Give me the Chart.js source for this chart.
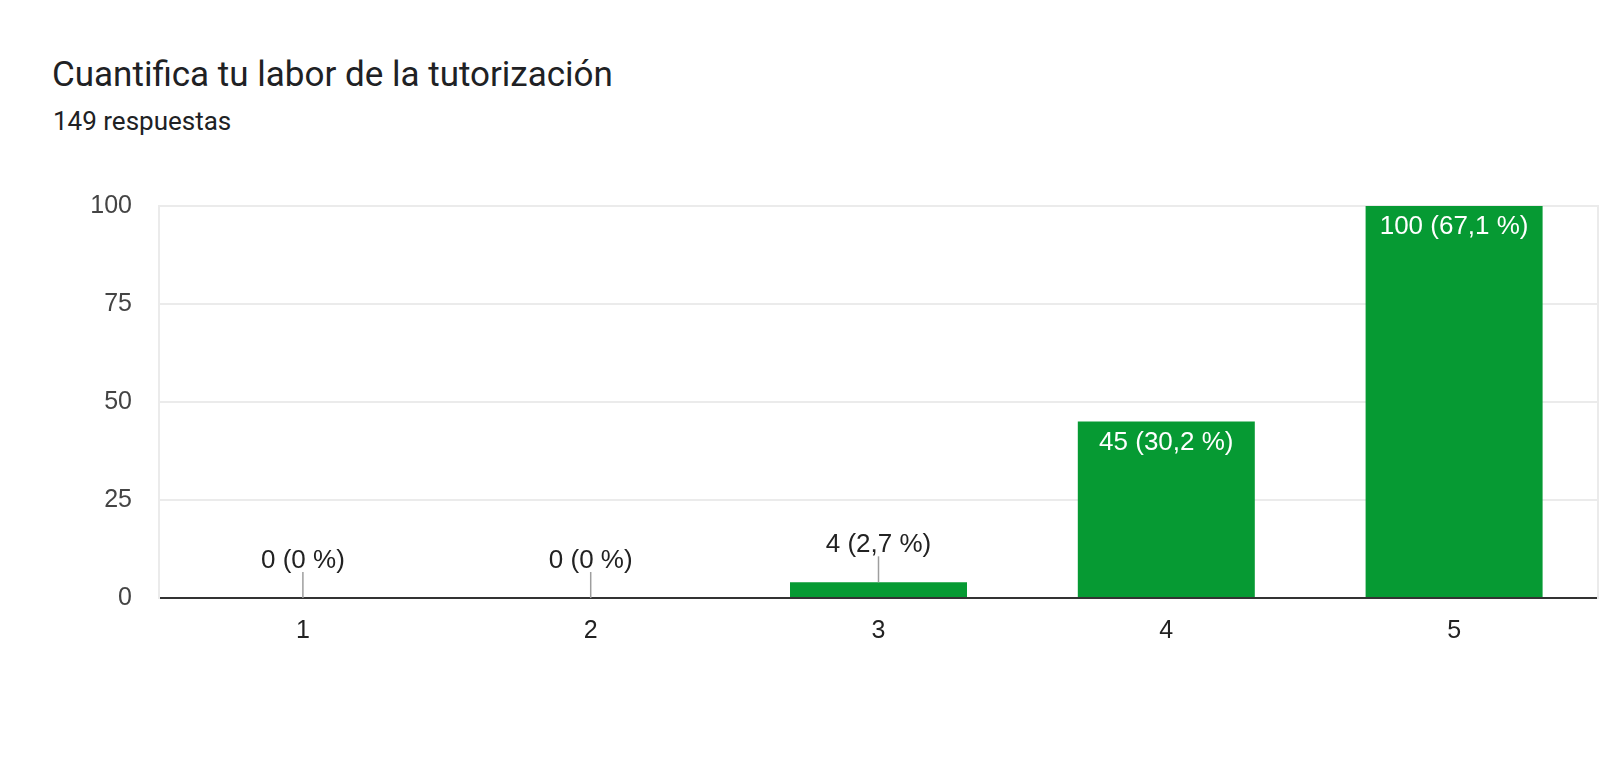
<!DOCTYPE html>
<html lang="es">
<head>
    <meta charset="UTF-8">
    <title>Cuantifica tu labor de la tutorización</title>
    <script src="https://cdn.jsdelivr.net/npm/chart.js"></script>
    <style>
        html, body {
            margin: 0;
            padding: 0;
            background: #fff;
            width: 1600px;
            height: 761px;
            overflow: hidden;
        }
        .title {
            position: absolute;
            left: 52px;
            top: 57px;
            font-family: Roboto, sans-serif;
            font-size: 35px;
            line-height: 1;
            color: #202124;
        }
        .subtitle {
            position: absolute;
            left: 53px;
            top: 108px;
            font-family: Roboto, sans-serif;
            font-size: 26px;
            line-height: 1;
            color: #202124;
        }
        .chart-box {
            position: absolute;
            left: 0;
            top: 150px;
            width: 1600px;
            height: 611px;
        }
    </style>
</head>
<body>
    <div class="title">Cuantifica tu labor de la tutorización</div>
    <div class="subtitle">149 respuestas</div>
    <div class="chart-box"><canvas id="chart"></canvas></div>

    <script>
        const categories = ['1', '2', '3', '4', '5'];
        const counts = [0, 0, 4, 45, 100];
        const yTicks = [0, 25, 50, 75, 100];

        const total = counts.reduce((a, b) => a + b, 0);
        const labelFont = "26px Arial, 'Liberation Sans', sans-serif";

        function pctText(v) {
            const p = Math.round(v / total * 1000) / 10;
            return v + ' (' + String(p).replace('.', ',') + ' %)';
        }

        // value labels: white inside tall bars, dark above short ones with a leader line
        const barLabels = {
            id: 'barLabels',
            afterDatasetsDraw(chart) {
                const ctx = chart.ctx;
                const meta = chart.getDatasetMeta(0);
                ctx.save();
                ctx.font = labelFont;
                ctx.textAlign = 'center';
                ctx.textBaseline = 'alphabetic';
                meta.data.forEach((bar, i) => {
                    const text = pctText(counts[i]);
                    const h = bar.base - bar.y;
                    if (h > 40) {
                        ctx.fillStyle = '#ffffff';
                        ctx.fillText(text, bar.x, bar.y + 28);
                    } else {
                        ctx.strokeStyle = '#9e9e9e';
                        ctx.lineWidth = 1.5;
                        ctx.beginPath();
                        ctx.moveTo(bar.x, bar.y);
                        ctx.lineTo(bar.x, bar.y - 26);
                        ctx.stroke();
                        ctx.fillStyle = '#222222';
                        ctx.fillText(text, bar.x, bar.y - 30);
                    }
                });
                ctx.restore();
            }
        };

        new Chart(document.getElementById('chart'), {
            type: 'bar',
            data: {
                labels: categories,
                datasets: [{
                    data: counts,
                    backgroundColor: '#069a33',
                    borderWidth: 0,
                    categoryPercentage: 1.0,
                    barPercentage: 0.615
                }]
            },
            options: {
                responsive: true,
                maintainAspectRatio: false,
                animation: false,
                layout: { padding: { top: 56, left: 0, right: 0, bottom: 0 } },
                plugins: {
                    legend: { display: false },
                    tooltip: { enabled: false }
                },
                scales: {
                    x: {
                        grid: { display: false },
                        border: { color: '#333333', width: 2 },
                        ticks: {
                            color: '#222222',
                            padding: 10,
                            font: { family: "Arial, 'Liberation Sans', sans-serif", size: 25 }
                        },
                        afterFit(scale) { scale.height = 163; }
                    },
                    y: {
                        min: 0,
                        max: 100,
                        afterBuildTicks(scale) {
                            scale.ticks = yTicks.map(v => ({ value: v }));
                        },
                        grid: {
                            color: ctx => ctx.tick && ctx.tick.value === 0 ? 'rgba(0,0,0,0)' : '#ebebeb',
                            lineWidth: 2,
                            drawTicks: false
                        },
                        border: { color: '#ebebeb', width: 2 },
                        ticks: {
                            color: '#444444',
                            padding: 27,
                            font: { family: "Arial, 'Liberation Sans', sans-serif", size: 25 }
                        },
                        afterFit(scale) { scale.width = 159; }
                    },
                    yRight: {
                        position: 'right',
                        min: 0,
                        max: 100,
                        grid: { display: false, drawTicks: false },
                        border: { color: '#ebebeb', width: 2 },
                        ticks: { display: false },
                        afterFit(scale) { scale.width = 2; }
                    }
                }
            },
            plugins: [barLabels]
        });
    </script>
</body>
</html>
